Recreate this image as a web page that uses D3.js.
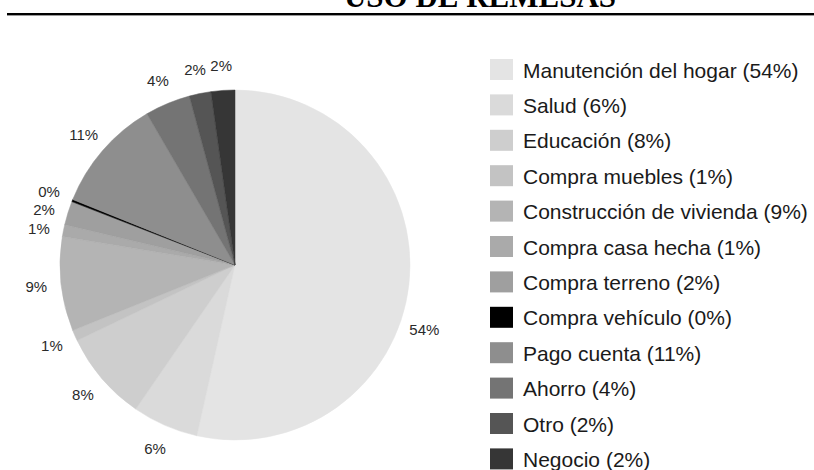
<!DOCTYPE html>
<html>
<head>
<meta charset="utf-8">
<script src="https://cdn.jsdelivr.net/npm/d3@7/dist/d3.min.js"></script>
<style>
  html, body { margin: 0; padding: 0; background: #fff; }
  svg { display: block; }
</style>
</head>
<body>
<svg id="chart" width="814" height="470"></svg>
<script>
// ---- data ----
const title = "USO DE REMESAS";
const categories = [
  "Manutención del hogar", "Salud", "Educación", "Compra muebles",
  "Construcción de vivienda", "Compra casa hecha", "Compra terreno",
  "Compra vehículo", "Pago cuenta", "Ahorro", "Otro", "Negocio"
];
const values = [53.5, 6.1, 8.3, 1.0, 8.7, 1.1, 2.2, 0.2, 10.5, 4.2, 2.0, 2.2];
const pctLabels = ["54%", "6%", "8%", "1%", "9%", "1%", "2%", "0%", "11%", "4%", "2%", "2%"];
const colors = ["#e4e4e4", "#dadada", "#cecece", "#c3c3c3", "#b4b4b4", "#aaaaaa",
                "#9f9f9f", "#000000", "#8e8e8e", "#747474", "#555555", "#363636"];

// ---- layout ----
const svg = d3.select("#chart");
const W = 814, H = 470;
const cx = 235, cy = 265, R = 175, labelR = 200;

// title (cut off at the top, as in the source) and rule
svg.append("text")
  .attr("x", 480).attr("y", 7)
  .attr("text-anchor", "middle")
  .attr("font-family", "'Liberation Serif', 'Times New Roman', serif")
  .attr("font-weight", "bold")
  .attr("font-size", 31)
  .attr("fill", "#000")
  .text(title);
svg.append("line").attr("x1", 7).attr("x2", W).attr("y1", 14).attr("y2", 14)
  .attr("stroke", "#000").attr("stroke-width", 2);
svg.append("line").attr("x1", 7).attr("x2", W).attr("y1", 15.5).attr("y2", 15.5)
  .attr("stroke", "#999").attr("stroke-width", 1);

// pie
const pie = d3.pie().sort(null).value(d => d)(values);
const arc = d3.arc().innerRadius(0).outerRadius(R);
const g = svg.append("g").attr("transform", `translate(${cx},${cy})`);
g.selectAll("path.slice").data(pie).join("path")
  .attr("class", "slice")
  .attr("d", arc)
  .attr("fill", (d, i) => colors[i])
  .attr("stroke", (d, i) => colors[i])
  .attr("stroke-width", 0.5);

// labels at mid angle, then de-overlap the crowded ones on the left edge
const labels = pie.map((d, i) => {
  let a = (d.startAngle + d.endAngle) / 2;
  if (i === 0) a += 12.5 * Math.PI / 180; // big slice label sits lower
  return { i, x: labelR * Math.sin(a), y: -labelR * Math.cos(a), s: Math.sin(a) };
});
const leftSide = labels.filter(l => l.s < -0.8).sort((a, b) => a.y - b.y);
const gap = 18.5;
for (let k = 1; k < leftSide.length; k++) {
  if (leftSide[k].y - leftSide[k - 1].y < gap) leftSide[k].y = leftSide[k - 1].y + gap;
}
g.selectAll("text.lbl").data(labels).join("text")
  .attr("class", "lbl")
  .attr("x", d => d.x)
  .attr("y", d => d.y)
  .attr("text-anchor", "middle")
  .attr("dominant-baseline", "central")
  .attr("font-family", "'Liberation Sans', Arial, sans-serif")
  .attr("font-size", 15)
  .attr("fill", "#2a2a2a")
  .text(d => pctLabels[d.i]);

// legend
const ly = d3.scaleBand().domain(d3.range(categories.length)).range([59, 59 + 35.4 * categories.length]);
const leg = svg.append("g");
const rows = leg.selectAll("g").data(categories).join("g")
  .attr("transform", (d, i) => `translate(490,${ly(i)})`);
rows.append("rect").attr("width", 23).attr("height", 21)
  .attr("fill", (d, i) => colors[i]);
rows.append("text")
  .attr("x", 33).attr("y", 11)
  .attr("dominant-baseline", "central")
  .attr("font-family", "'Liberation Sans', Arial, sans-serif")
  .attr("font-size", 21)
  .attr("fill", "#1a1a1a")
  .text((d, i) => `${d} (${pctLabels[i]})`);
</script>
</body>
</html>
